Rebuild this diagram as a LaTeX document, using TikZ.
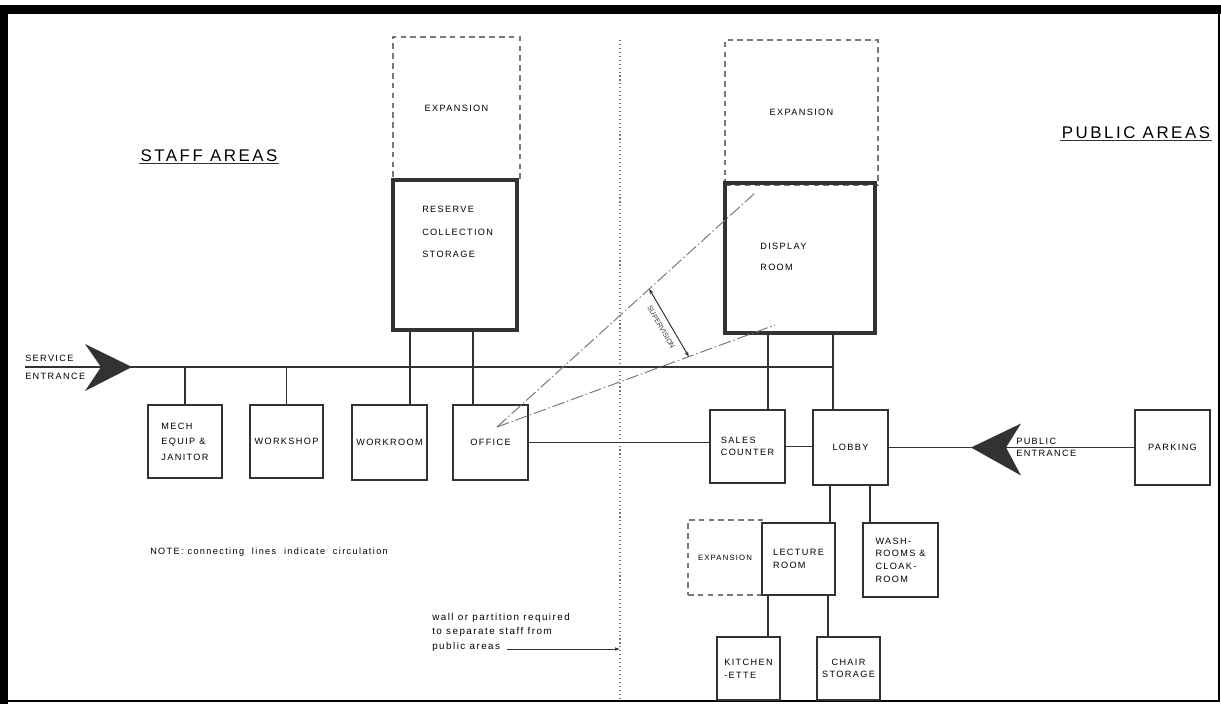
\documentclass[tikz,border=0pt]{standalone}
\usepackage{fontspec}
\setmainfont{Liberation Sans}
\newfontfamily\draftfont[LetterSpace=15]{Liberation Sans}
\usetikzlibrary{arrows.meta,calc}
\definecolor{inkgray}{RGB}{50,50,50}
\definecolor{paleink}{RGB}{120,120,120}
\newcommand{\roomfont}{\draftfont\fontsize{6.5}{9}\selectfont}

\begin{document}
\begin{tikzpicture}[x=0.025cm,y=-0.025cm,
        room/.style={rectangle,draw=inkgray,line width=1.8pt,align=center,
          font=\roomfont,inner sep=0pt},
        mainroom/.style={room,line width=2.6pt},
        expand/.style={rectangle,draw=paleink,line width=0.8pt,
          dash pattern=on 4pt off 3pt,align=center,font=\roomfont,inner sep=0pt},
        link/.style={draw=inkgray,line width=1.2pt},
        sight/.style={draw=paleink,line width=0.7pt,
          dash pattern=on 9pt off 2pt on 1pt off 2pt},
        heading/.style={font=\draftfont\fontsize{12}{14}\selectfont,inner sep=1pt},
        remark/.style={font=\draftfont\fontsize{7}{10.3}\selectfont,align=left,inner sep=0pt},
        entry/.style={fill=inkgray}]
  \useasboundingbox (0,0) rectangle (1221,704);
  % frame
  \fill[black] (0,5) rectangle (1221,14);
  \fill[black] (0,5) rectangle (8,704);
  \draw[black,line width=0.8pt] (1219,14) -- (1219,701) -- (8,701);

  % headings
  \node[heading] (staff) at (209,156) {STAFF AREAS};
  \draw[inkgray,line width=0.6pt] (staff.south west) -- (staff.south east);
  \node[heading] (public) at (1136,133) {PUBLIC AREAS};
  \draw[inkgray,line width=0.6pt] (public.south west) -- (public.south east);

  % staff side
  \node[expand,minimum width=3.175cm,minimum height=3.575cm] (expstore) at (456.5,108.5) {EXPANSION};
  \node[mainroom,minimum width=3.1cm,minimum height=3.75cm] (reserve) at (455,255) {};
  \node[remark,font=\roomfont,anchor=west] at (422,232) {RESERVE\\[7pt]COLLECTION\\[7pt]STORAGE};
  \node[room,minimum width=1.85cm,minimum height=1.825cm,align=left] (mech) at (185,441.5) {MECH\\[2pt]EQUIP \&\\[2pt]JANITOR};
  \node[room,minimum width=1.825cm,minimum height=1.825cm] (workshop) at (286.5,441.5) {WORKSHOP};
  \node[room,minimum width=1.875cm,minimum height=1.875cm] (workroom) at (389.5,442.5) {WORKROOM};
  \node[room,minimum width=1.875cm,minimum height=1.875cm] (office) at (490.5,442.5) {OFFICE};

  % public side
  \node[expand,minimum width=3.825cm,minimum height=3.625cm] (expdisplay) at (801.5,112.5) {EXPANSION};
  \node[mainroom,minimum width=3.75cm,minimum height=3.75cm] (display) at (800,258) {};
  \node[remark,font=\roomfont,anchor=west] at (760,257) {DISPLAY\\[6pt]ROOM};
  \node[room,minimum width=1.875cm,minimum height=1.825cm,align=left] (sales) at (747.5,446.5) {SALES\\COUNTER};
  \node[room,minimum width=1.875cm,minimum height=1.875cm] (lobby) at (850.5,447.5) {LOBBY};
  \node[room,minimum width=1.875cm,minimum height=1.875cm] (parking) at (1172.5,447.5) {PARKING};
  \node[expand,minimum width=1.85cm,minimum height=1.875cm,font=\draftfont\fontsize{5.5}{7}\selectfont] (explecture) at (725,557.5) {EXPANSION};
  \node[room,minimum width=1.825cm,minimum height=1.8cm,align=left] (lecture) at (798.5,559) {LECTURE\\ROOM};
  \node[room,minimum width=1.875cm,minimum height=1.85cm,align=left] (wash) at (900.5,560) {WASH-\\ROOMS \&\\CLOAK-\\ROOM};
  \node[room,minimum width=1.575cm,minimum height=1.575cm,align=left] (kitchen) at (748.5,668.5) {KITCHEN\\-ETTE};
  \node[room,minimum width=1.575cm,minimum height=1.575cm] (chair) at (848.5,668.5) {CHAIR\\STORAGE};

  % partition
  \coordinate (walltop) at (620,40);
  \coordinate (wallbot) at (620,700);
  \draw[paleink,line width=0.8pt,dotted] (walltop) -- (wallbot);

  % service entrance and circulation
  \coordinate (svcstart) at (25,367);
  \coordinate (svctip) at (132,367);
  \coordinate (svcend) at (833,367);
  \draw[link] (svcstart) -- (svcend);
  \fill[entry,shift={(svctip)}] (0,0) -- (-47,-23) -- (-31,0) -- (-47,24) -- cycle;
  \node[remark,font=\roomfont,anchor=west] (svclabel) at (svcstart) {SERVICE\\[4pt]ENTRANCE};
  \draw[link] (mech.north) -- (mech.north |- svcstart);
  \draw[link] (workshop.north) -- (workshop.north |- svcstart);
  \draw[link] (410,0 |- reserve.south) -- (410,0 |- workroom.north);
  \draw[link] (473,0 |- reserve.south) -- (473,0 |- office.north);
  \draw[link] (768,0 |- display.south) -- (768,0 |- sales.north);
  \draw[link] (833,0 |- display.south) -- (833,0 |- lobby.north);
  \draw[link] (office.east) -- (office.east -| sales.west);
  \draw[link] (sales.east) -- (sales.east -| lobby.west);
  \draw[link] (lobby.east) -- (parking.west);
  \draw[link] (830,0 |- lobby.south) -- (830,0 |- lecture.north);
  \draw[link] (870,0 |- lobby.south) -- (870,0 |- wash.north);
  \draw[link] (768,0 |- lecture.south) -- (768,0 |- kitchen.north);
  \draw[link] (828,0 |- lecture.south) -- (828,0 |- chair.north);

  % public entrance
  \coordinate (pubtip) at (971,447.5);
  \fill[entry,shift={(pubtip)}] (0,0) -- (50,-24) -- (35,0) -- (50,28) -- cycle;
  \node[remark,font=\roomfont,anchor=west] (publabel) at (1016,447.5) {PUBLIC\\ENTRANCE};

  % supervision
  \coordinate (eye) at (497,427);
  \coordinate (sightA) at (755,193);
  \coordinate (sightB) at (775,325);
  \draw[sight] (eye) -- (sightA);
  \draw[sight] (eye) -- (sightB);
  \coordinate (supA) at ($(eye)!0.59!(sightA)$);
  \coordinate (supB) at ($(eye)!0.69!(sightB)$);
  \draw[inkgray,line width=0.7pt,{Stealth[length=1.3mm]}-{Stealth[length=1.3mm]}] (supA) -- (supB)
    node[midway,sloped,below=1pt,font=\fontsize{5}{6}\selectfont] {SUPERVISION};

  % notes
  \node[remark,anchor=west,font=\draftfont\fontsize{6.5}{8}\selectfont] (note) at (150,552) {NOTE: connecting \ lines \ indicate \ circulation};
  \node[remark,anchor=north west] (wallnote) at (432,613) {wall or partition required\\to separate staff from\\public areas};
  \coordinate (walltail) at (507,649);
  \draw[inkgray,line width=0.6pt,-{Latex[length=1.2mm]}] (walltail) -- (walltail -| walltop);
\end{tikzpicture}
\end{document}
